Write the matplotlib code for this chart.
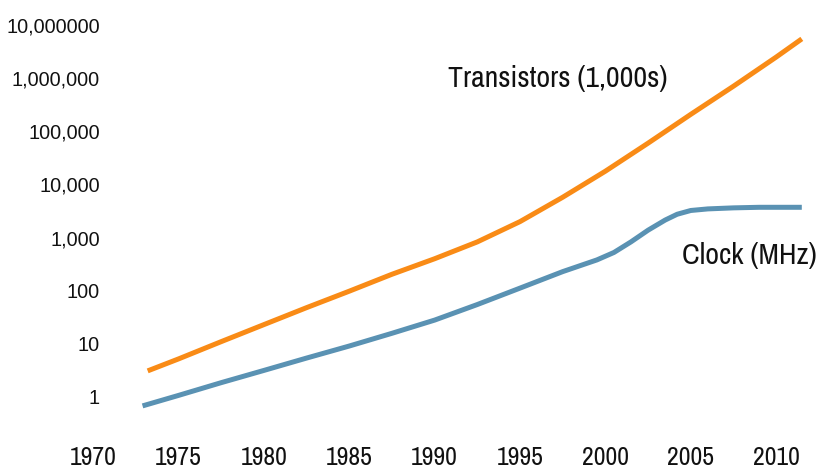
import matplotlib
matplotlib.use("Agg")
import matplotlib.pyplot as plt
from matplotlib.ticker import FixedLocator, NullLocator

# Data (log scale)
trans_years = [1973.2, 1975, 1977.5, 1980, 1982.5, 1985, 1987.5, 1990, 1992.5, 1995,
               1997.5, 2000, 2002.5, 2005, 2007.5, 2010, 2011.5]
trans_values = [3.1, 5.2, 11, 23, 48, 98, 204, 400, 830, 2000,
                5750, 17800, 60000, 209000, 708000, 2500000, 5500000]

clock_years = [1972.9, 1975, 1977.5, 1980, 1982.5, 1985, 1987.5, 1990, 1992.5, 1995, 1997.5,
               1998.5, 1999.5, 2000.5, 2001.5, 2002.5, 2003.5, 2004.2, 2005, 2006, 2007.5, 2009, 2011.5]
clock_values = [0.68, 1.07, 1.86, 3.16, 5.4, 9.1, 15.8, 28, 55, 112, 229,
                295, 380, 525, 832, 1380, 2140, 2750, 3240, 3470, 3630, 3720, 3720]

x_ticks = [1970, 1975, 1980, 1985, 1990, 1995, 2000, 2005, 2010]
x_labels = [str(v) for v in x_ticks]
y_ticks = [1, 10, 100, 1000, 10000, 100000, 1000000, 10000000]
y_labels = ["1", "10", "100", "1,000", "10,000", "100,000", "1,000,000", "10,000000"]

ORANGE = "#F98B16"
BLUE = "#5A92B3"
NARROW = ["Arial Narrow", "Liberation Sans Narrow", "Archivo Narrow", "DejaVu Sans"]
REGULAR = ["Arial", "Liberation Sans", "DejaVu Sans"]

W, H = 827, 470
fig = plt.figure(figsize=(W / 100, H / 100), dpi=100)
ax = fig.add_axes([85 / W, 50 / H, 732 / W, 405 / H])

ax.plot(trans_years, trans_values, color=ORANGE, lw=3.6, solid_capstyle="butt", solid_joinstyle="round")
ax.plot(clock_years, clock_values, color=BLUE, lw=3.6, solid_capstyle="butt", solid_joinstyle="round")

ax.set_yscale("log")
ax.set_xlim(1969.53, 2012.39)
ax.set_ylim(10 ** -0.433, 10 ** 7.19)

ax.xaxis.set_major_locator(FixedLocator(x_ticks))
ax.set_xticklabels(x_labels, fontfamily=NARROW, fontsize=18.5, color="#111111")
ax.yaxis.set_major_locator(FixedLocator(y_ticks))
ax.yaxis.set_minor_locator(NullLocator())
ax.set_yticklabels(y_labels, fontfamily=REGULAR, fontsize=14.3, color="#111111")

ax.tick_params(axis="x", length=0, pad=18.5)
ax.tick_params(axis="y", length=0, pad=-10.8)
for s in ax.spines.values():
    s.set_visible(False)

ax.text(0.646, 0.842, "Transistors (1,000s)", transform=ax.transAxes, ha="center", va="center",
        fontfamily=NARROW, fontsize=21.5, color="#111111")
ax.text(1.0, 0.407, "Clock (MHz)", transform=ax.transAxes, ha="right", va="center",
        fontfamily=NARROW, fontsize=21.5, color="#111111", clip_on=False)

fig.savefig("out.png", dpi=100)
